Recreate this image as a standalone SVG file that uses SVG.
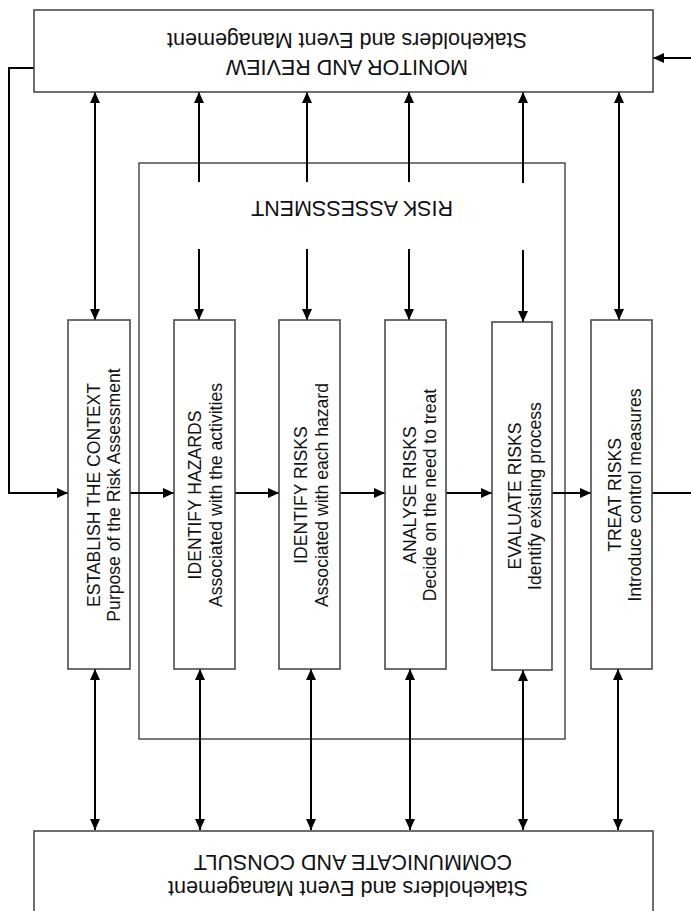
<svg xmlns="http://www.w3.org/2000/svg" width="691" height="911" viewBox="0 0 691 911">
<style>
.box{fill:#fff;stroke:#4a4a4a;stroke-width:1.6}
.frame{fill:none;stroke:#333;stroke-width:1.3}
.c{fill:none;stroke:#000;stroke-width:2}
.big{font-family:"Liberation Sans",Arial,sans-serif;font-size:21.5px;fill:#111;text-anchor:middle}
.t{font-family:"Liberation Sans",Arial,sans-serif;font-size:17.6px;fill:#111;text-anchor:middle}
</style>
<defs>
<marker id="ah" viewBox="0 0 11 10" refX="11" refY="5" markerWidth="11" markerHeight="10" markerUnits="userSpaceOnUse" orient="auto-start-reverse">
<path d="M0,0 L11,5 L0,10 z" fill="#000"/>
</marker>
</defs>
<rect width="691" height="911" fill="#fff"/>

<g id="risk-assessment">
<rect class="frame" x="139" y="163" width="426" height="576"/>
<text class="big" x="352" y="201" transform="rotate(180 352 201)">RISK ASSESSMENT</text>
</g>

<g id="connectors">
<polyline class="c" points="34,68 9,68 9,493 68,493" marker-end="url(#ah)"/>
<line class="c" x1="691" y1="58" x2="653" y2="58" marker-end="url(#ah)"/>
<line class="c" x1="130" y1="493" x2="174" y2="493" marker-end="url(#ah)"/>
<line class="c" x1="235" y1="493" x2="279" y2="493" marker-end="url(#ah)"/>
<line class="c" x1="340" y1="493" x2="385" y2="493" marker-end="url(#ah)"/>
<line class="c" x1="446" y1="493" x2="492" y2="493" marker-end="url(#ah)"/>
<line class="c" x1="552" y1="493" x2="591" y2="493" marker-end="url(#ah)"/>
<line class="c" x1="652" y1="493" x2="691" y2="493"/>
<line class="c" x1="95" y1="92" x2="95" y2="320" marker-start="url(#ah)" marker-end="url(#ah)"/>
<line class="c" x1="619" y1="92" x2="619" y2="320" marker-start="url(#ah)" marker-end="url(#ah)"/>
<line class="c" x1="199" y1="92" x2="199" y2="182" marker-start="url(#ah)"/>
<line class="c" x1="199" y1="249" x2="199" y2="320" marker-end="url(#ah)"/>
<line class="c" x1="307" y1="92" x2="307" y2="182" marker-start="url(#ah)"/>
<line class="c" x1="307" y1="249" x2="307" y2="320" marker-end="url(#ah)"/>
<line class="c" x1="409" y1="92" x2="409" y2="182" marker-start="url(#ah)"/>
<line class="c" x1="409" y1="249" x2="409" y2="320" marker-end="url(#ah)"/>
<line class="c" x1="523" y1="92" x2="523" y2="183" marker-start="url(#ah)"/>
<line class="c" x1="523" y1="250" x2="523" y2="322" marker-end="url(#ah)"/>
<line class="c" x1="95" y1="669" x2="95" y2="830" marker-start="url(#ah)" marker-end="url(#ah)"/>
<line class="c" x1="200" y1="669" x2="200" y2="830" marker-start="url(#ah)" marker-end="url(#ah)"/>
<line class="c" x1="311" y1="669" x2="311" y2="830" marker-start="url(#ah)" marker-end="url(#ah)"/>
<line class="c" x1="410" y1="669" x2="410" y2="830" marker-start="url(#ah)" marker-end="url(#ah)"/>
<line class="c" x1="523" y1="670" x2="523" y2="830" marker-start="url(#ah)" marker-end="url(#ah)"/>
<line class="c" x1="618" y1="669" x2="618" y2="830" marker-start="url(#ah)" marker-end="url(#ah)"/>
</g>

<g id="monitor">
<rect class="box" x="34" y="10" width="619" height="82"/>
<text class="big" x="347" y="60" transform="rotate(180 347 60)">MONITOR AND REVIEW</text>
<text class="big" x="347" y="33" transform="rotate(180 347 33)">Stakeholders and Event Management</text>
</g>

<g id="communicate">
<rect class="box" x="34" y="831" width="619" height="90"/>
<text class="big" x="353" y="855" transform="rotate(180 353 855)">COMMUNICATE AND CONSULT</text>
<text class="big" x="348" y="881" transform="rotate(180 348 881)">Stakeholders and Event Management</text>
</g>

<g id="establish">
<rect class="box" x="68" y="320" width="62" height="349"/>
<text class="t" transform="translate(100 495) rotate(-90)">ESTABLISH THE CONTEXT</text>
<text class="t" transform="translate(120 495) rotate(-90)">Purpose of the Risk Assessment</text>
</g>
<g id="identify-hazards">
<rect class="box" x="174" y="320" width="61" height="349"/>
<text class="t" transform="translate(201 495) rotate(-90)">IDENTIFY HAZARDS</text>
<text class="t" transform="translate(222 495) rotate(-90)">Associated with the activities</text>
</g>
<g id="identify-risks">
<rect class="box" x="279" y="320" width="61" height="349"/>
<text class="t" transform="translate(307 495) rotate(-90)">IDENTIFY RISKS</text>
<text class="t" transform="translate(328 495) rotate(-90)">Associated with each hazard</text>
</g>
<g id="analyse-risks">
<rect class="box" x="385" y="320" width="61" height="349"/>
<text class="t" transform="translate(416 495) rotate(-90)">ANALYSE RISKS</text>
<text class="t" transform="translate(436 495) rotate(-90)">Decide on the need to treat</text>
</g>
<g id="evaluate-risks">
<rect class="box" x="492" y="322" width="60" height="348"/>
<text class="t" transform="translate(521 496) rotate(-90)">EVALUATE RISKS</text>
<text class="t" transform="translate(541 496) rotate(-90)">Identify existing process</text>
</g>
<g id="treat-risks">
<rect class="box" x="591" y="320" width="61" height="349"/>
<text class="t" transform="translate(621 495) rotate(-90)">TREAT RISKS</text>
<text class="t" transform="translate(641 495) rotate(-90)">Introduce control measures</text>
</g>
</svg>
